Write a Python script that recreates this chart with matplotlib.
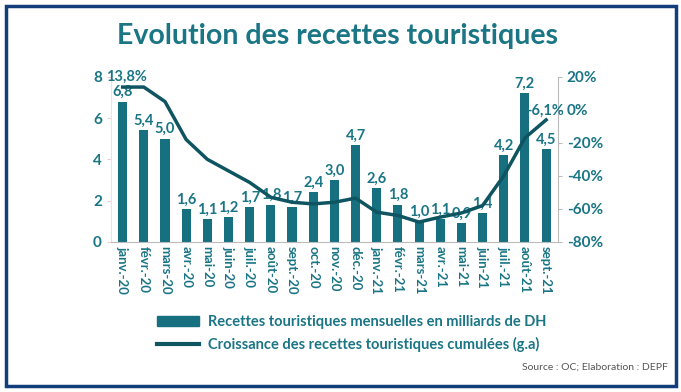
import matplotlib.pyplot as plt
from matplotlib.patches import Rectangle
from matplotlib.lines import Line2D

plt.rcParams['font.family'] = ['Lato', 'DejaVu Sans']

mois = ["janv.-20", "févr.-20", "mars-20", "avr.-20", "mai-20", "juin-20",
        "juil.-20", "août-20", "sept.-20", "oct.-20", "nov.-20", "déc.-20",
        "janv.-21", "févr.-21", "mars-21", "avr.-21", "mai-21", "juin-21",
        "juil.-21", "août-21", "sept.-21"]
recettes = [6.8, 5.4, 5.0, 1.6, 1.1, 1.2, 1.7, 1.8, 1.7, 2.4, 3.0, 4.7,
            2.6, 1.8, 1.0, 1.1, 0.9, 1.4, 4.2, 7.2, 4.5]
croissance = [13.8, 13.8, 5, -18, -30, -37, -44, -53, -56, -57, -56, -53.5,
              -62, -64, -68, -65, -62.5, -58, -40, -17, -6.1]

teal = "#1a7585"
bar_col = "#17707f"
line_col = "#0f5561"

fig = plt.figure(figsize=(6.81, 3.92), dpi=100)
ax = fig.add_axes([0.163, 0.383, 0.656, 0.421])
x = range(len(mois))
ax.bar(x, recettes, width=0.43, color=bar_col, zorder=2)
ax.set_xlim(-0.55, len(mois) - 0.45)
ax.set_ylim(0, 8)
ax.set_yticks([0, 2, 4, 6, 8])
ax.set_xticks(list(x))
ax.set_xticklabels(mois, rotation=-90, color=teal, fontsize=9.5, fontweight="bold")
ax.tick_params(axis="y", colors="#e8d0d0", labelcolor=teal, labelsize=11, length=3)
for lab in ax.get_yticklabels():
    lab.set_fontweight("bold")
ax.tick_params(axis="x", length=0, pad=3)
for s in ["top", "right"]:
    ax.spines[s].set_visible(False)
ax.spines["left"].set_color("#f0e0e0")
ax.spines["bottom"].set_color("#bbbbbb")

for i, v in enumerate(recettes):
    ax.text(i, v + 0.12, f"{v:.1f}".replace(".", ","), ha="center", va="bottom",
            color=teal, fontsize=10.5, fontweight="bold", zorder=4)

ax2 = ax.twinx()
ax2.plot(x, croissance, color=line_col, lw=2.5, zorder=3)
ax2.set_ylim(-80, 20)
ax2.set_yticks([-80, -60, -40, -20, 0, 20])
ax2.set_yticklabels([f"{t}%" for t in [-80, -60, -40, -20, 0, 20]])
ax2.tick_params(axis="y", colors="#bbbbbb", labelcolor=teal, labelsize=11, length=3)
for lab in ax2.get_yticklabels():
    lab.set_fontweight("bold")
for s in ["top", "left", "bottom"]:
    ax2.spines[s].set_visible(False)
ax2.spines["right"].set_color("#bbbbbb")
ax2.text(0.2, croissance[0] + 2, "13,8%", ha="center", va="bottom", color=teal,
         fontsize=10.5, fontweight="bold", clip_on=False)
ax2.text(len(mois) - 1.05, croissance[-1] + 1, "-6,1%", ha="center", va="bottom",
         color=teal, fontsize=10.5, fontweight="bold", clip_on=False)

fig.text(0.495, 0.908, "Evolution des recettes touristiques", ha="center", va="center",
         color=teal, fontsize=20.5, fontweight="bold")

handles = [Rectangle((0, 0), 1, 1, color=bar_col),
           Line2D([0], [0], color=line_col, lw=3)]
leg = fig.legend(handles, ["Recettes touristiques mensuelles en milliards de DH",
                           "Croissance des recettes touristiques cumulées (g.a)"],
                 loc="upper left", bbox_to_anchor=(0.22, 0.215), frameon=False,
                 prop={"size": 10.5, "weight": "bold"}, labelcolor=teal,
                 handlelength=2.9, handleheight=0.7,
                 labelspacing=0.55, borderpad=0, handletextpad=0.6)

fig.text(0.98, 0.063, "Source : OC; Elaboration : DEPF", ha="right", va="center",
         color="#555555", fontsize=7.5)

fig.patches.append(Rectangle((6 / 681, 6 / 392), 670 / 681, 380 / 392,
                             transform=fig.transFigure, fill=False,
                             edgecolor="#123e7c", lw=2.5))

fig.savefig("out.png", dpi=100)
